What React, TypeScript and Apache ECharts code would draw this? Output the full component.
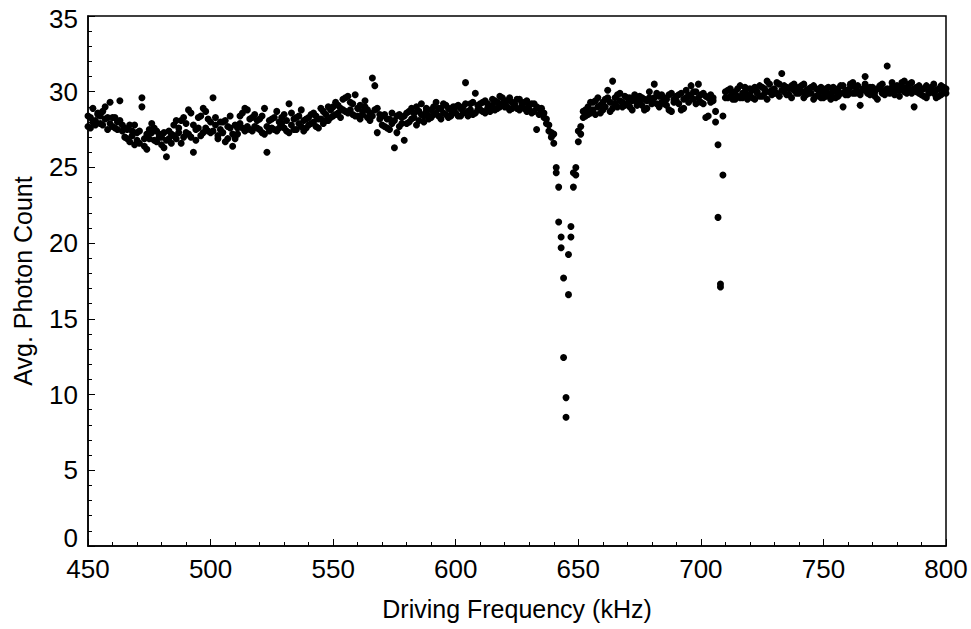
import React, { useEffect, useRef } from "react";
import * as echarts from "echarts";

// Driving frequency sweep (kHz): start and step
const freqStart = 450;
const freqStep = 1;

// Run A photon counts, one value per kHz, 450..800
const runA450 = [28.4, 27.6, 28.9, 28.1, 28.5, 27.9, 28.7, 28.2, 27.5, 29.3, 28.3, 27.6, 28.0, 29.4, 27.4, 27.6, 26.9, 27.8, 27.1, 26.5, 27.3, 26.6, 29.6, 26.9, 26.2, 27.5, 27.9, 26.8, 27.4, 27.0, 26.5, 27.3, 25.7, 26.9, 27.2, 27.8, 26.9, 27.6, 28.1, 27.0, 27.9, 27.2, 28.6, 26.0, 27.5, 28.3, 27.1, 28.9, 27.6, 28.2];
const runA500 = [27.3, 29.6, 27.8, 26.9, 27.5, 28.0, 26.7, 27.7, 28.4, 27.2, 26.9, 27.6, 27.9, 28.6, 27.4, 28.8, 27.5, 28.3, 27.7, 28.1, 27.5, 28.4, 27.2, 26.0, 28.1, 27.6, 28.3, 27.4, 28.0, 27.9, 28.5, 27.4, 29.2, 27.8, 28.2, 27.5, 28.4, 27.7, 28.1, 27.6, 28.3, 27.9, 28.6, 27.7, 28.2, 28.9, 27.9, 28.5, 28.1, 28.8];
const runA550 = [28.4, 29.3, 28.6, 28.9, 29.5, 28.7, 29.7, 28.8, 29.2, 28.4, 28.9, 28.2, 28.7, 29.0, 28.3, 28.6, 30.9, 28.8, 27.3, 28.5, 27.8, 28.5, 27.6, 28.2, 27.9, 26.3, 28.4, 27.7, 28.3, 26.8, 28.6, 28.0, 28.9, 28.3, 27.8, 28.7, 29.2, 28.4, 28.9, 28.2, 28.8, 28.5, 29.3, 28.4, 28.9, 28.6, 29.1, 28.3, 28.8, 29.0];
const runA600 = [28.6, 29.1, 28.4, 29.0, 30.6, 28.7, 29.2, 28.5, 29.9, 28.8, 29.2, 28.7, 29.4, 28.9, 29.0, 29.5, 28.8, 29.3, 29.0, 29.6, 29.0, 29.4, 28.8, 29.3, 29.1, 28.9, 29.5, 29.0, 29.3, 28.7, 29.1, 28.6, 29.2, 27.5, 28.9, 28.7, 28.3, 27.9, 27.4, 27.0, 26.6, 25.0, 23.7, 20.4, 17.7, 8.5, 16.6, 20.4, 23.7, 25.0];
const runA650 = [26.7, 27.7, 28.3, 28.8, 28.5, 29.3, 28.8, 29.4, 29.0, 28.6, 29.3, 29.0, 29.6, 28.7, 30.7, 29.2, 29.8, 29.4, 29.0, 29.7, 29.2, 29.6, 28.8, 29.5, 29.3, 29.7, 29.1, 29.5, 28.9, 29.6, 29.4, 30.5, 29.2, 29.7, 29.3, 29.6, 29.1, 29.8, 28.7, 29.5, 29.7, 29.2, 29.9, 28.9, 29.6, 29.8, 30.4, 29.5, 30.0, 29.6];
const runA700 = [29.3, 29.9, 28.3, 29.6, 29.8, 29.4, 28.7, 26.5, 17.1, 24.5, 29.6, 30.1, 29.7, 29.9, 29.5, 30.2, 29.6, 29.9, 30.3, 29.7, 29.8, 30.1, 29.5, 30.0, 29.7, 30.3, 29.9, 30.7, 30.0, 29.8, 30.2, 29.9, 30.5, 31.2, 30.0, 30.3, 29.8, 30.4, 30.1, 29.9, 30.3, 30.0, 30.5, 29.8, 30.2, 29.9, 30.4, 29.7, 30.1, 29.6];
const runA750 = [30.0, 29.7, 30.3, 29.8, 30.1, 29.6, 30.2, 29.9, 30.4, 29.8, 30.1, 30.5, 29.9, 30.3, 30.0, 29.1, 30.2, 31.0, 29.9, 30.3, 30.0, 29.7, 30.2, 30.4, 29.9, 30.1, 31.7, 30.0, 30.3, 29.8, 30.4, 30.1, 30.6, 30.0, 30.3, 30.5, 29.9, 30.2, 30.0, 30.4, 29.8, 30.2, 29.6, 30.0, 30.3, 29.9, 30.1, 29.7, 30.4, 30.0, 30.2];

// Run B photon counts, one value per kHz, 450..800
const runB450 = [27.7, 28.3, 28.0, 27.8, 28.6, 28.4, 27.8, 29.0, 28.3, 27.9, 27.7, 28.3, 27.5, 28.1, 27.8, 27.0, 27.5, 26.7, 27.4, 27.8, 26.8, 27.4, 29.0, 26.4, 27.2, 26.9, 27.3, 27.6, 26.7, 27.2, 27.0, 26.3, 26.8, 27.4, 26.6, 27.1, 28.1, 27.3, 26.6, 28.3, 27.3, 28.8, 27.0, 27.8, 26.8, 27.6, 28.4, 27.3, 28.7, 27.4];
const runB500 = [28.0, 27.4, 28.3, 27.1, 28.0, 27.3, 28.1, 26.9, 27.6, 26.4, 27.8, 27.2, 28.4, 27.6, 28.9, 27.7, 28.2, 27.4, 28.5, 27.6, 28.2, 27.3, 28.9, 27.7, 27.4, 28.2, 27.5, 28.7, 27.6, 28.3, 27.6, 28.1, 27.3, 28.6, 27.5, 28.3, 27.9, 28.8, 27.4, 28.2, 27.8, 28.5, 28.0, 28.4, 27.6, 28.2, 28.7, 28.1, 29.0, 28.3];
const runB550 = [29.0, 28.5, 29.1, 28.3, 28.8, 29.6, 28.6, 29.3, 28.5, 29.8, 28.4, 29.1, 28.5, 29.4, 28.8, 28.1, 28.4, 30.4, 28.9, 28.2, 28.4, 27.7, 28.2, 27.5, 28.6, 28.1, 27.3, 28.5, 27.9, 28.4, 27.9, 28.7, 28.2, 28.6, 29.0, 28.1, 28.5, 28.0, 28.7, 28.4, 28.3, 29.0, 28.6, 28.9, 28.2, 29.2, 28.5, 28.9, 28.4, 28.7];
const runB600 = [29.0, 28.4, 28.9, 28.6, 29.2, 28.4, 28.8, 29.3, 28.6, 29.1, 28.8, 29.3, 28.6, 29.2, 28.7, 29.1, 29.4, 28.9, 29.7, 29.2, 29.4, 29.0, 29.6, 28.9, 29.2, 29.5, 28.8, 29.2, 28.9, 29.4, 28.8, 29.2, 28.7, 29.0, 28.5, 28.9, 28.6, 28.2, 27.8, 27.3, 27.2, 24.65, 21.4, 19.7, 12.45, 9.8, 19.25, 21.1, 24.65, 24.5];
const runB650 = [27.4, 27.2, 28.7, 28.4, 29.0, 28.6, 29.3, 28.5, 29.6, 29.1, 28.8, 29.5, 30.1, 29.3, 28.9, 29.6, 29.0, 29.9, 29.3, 29.1, 29.6, 29.0, 29.4, 29.8, 29.1, 29.3, 29.6, 28.8, 29.4, 30.0, 29.2, 29.6, 29.9, 29.0, 29.8, 29.2, 29.5, 28.8, 29.9, 29.3, 29.4, 29.8, 28.8, 29.5, 30.1, 29.3, 29.7, 30.0, 29.2, 30.5];
const runB700 = [29.8, 29.2, 29.7, 28.4, 29.3, 29.6, 28.0, 21.7, 17.3, 28.4, 30.0, 29.6, 30.2, 29.5, 30.0, 29.7, 30.4, 29.6, 30.0, 29.5, 30.2, 29.6, 30.3, 29.9, 30.4, 29.7, 30.2, 29.5, 30.5, 30.1, 29.9, 30.6, 29.7, 30.1, 30.4, 29.8, 30.2, 29.6, 30.5, 30.2, 29.9, 30.4, 29.6, 30.1, 29.9, 30.3, 29.5, 30.2, 29.8, 30.3];
const runB750 = [29.6, 30.2, 29.9, 29.5, 30.3, 30.0, 29.7, 30.4, 29.0, 30.1, 29.8, 30.3, 30.6, 29.9, 30.4, 29.8, 30.1, 30.5, 30.2, 29.8, 30.3, 30.0, 29.5, 30.2, 30.5, 29.8, 30.2, 29.9, 30.6, 30.1, 30.1, 29.7, 30.3, 30.7, 29.9, 30.2, 30.6, 29.0, 30.3, 29.9, 30.2, 29.7, 30.4, 29.9, 30.1, 30.5, 29.6, 30.2, 29.8, 30.3, 29.9];

const runA = [...runA450, ...runA500, ...runA550, ...runA600, ...runA650, ...runA700, ...runA750];
const runB = [...runB450, ...runB500, ...runB550, ...runB600, ...runB650, ...runB700, ...runB750];

const xTicks = { min: 450, max: 800, interval: 50 };
const yTicks = { min: 0, max: 35, interval: 5 };

const FONT = "'Liberation Sans', Arial, Helvetica, sans-serif";

export default function App() {
  const ref = useRef<HTMLDivElement>(null);
  useEffect(() => {
    if (!ref.current) return;
    const chart = echarts.init(ref.current, null, { renderer: "svg" });
    const toPairs = (arr: number[]) => arr.map((v, i) => [freqStart + i * freqStep, v]);
    const pts = [...toPairs(runA), ...toPairs(runB)];
    const tickStyle = { fontFamily: FONT, fontSize: 26, lineHeight: 18, color: "#000" };
    chart.setOption({
      animation: false,
      backgroundColor: "#ffffff",
      grid: {
        left: 88,
        right: 25,
        top: 14,
        bottom: 83,
        show: true,
        borderColor: "#000",
        borderWidth: 1.5,
        backgroundColor: "transparent",
      },
      xAxis: {
        type: "value",
        min: xTicks.min,
        max: xTicks.max,
        interval: xTicks.interval,
        name: "Driving Frequency (kHz)",
        nameLocation: "middle",
        nameGap: 50,
        nameTextStyle: { fontFamily: FONT, fontSize: 25, color: "#000" },
        axisLine: { show: true, onZero: false, lineStyle: { color: "#000", width: 1.5 } },
        axisTick: { show: true, inside: true, length: 7, lineStyle: { color: "#000", width: 1 } },
        minorTick: { show: true, splitNumber: 5, length: 4, lineStyle: { color: "#000", width: 1 } },
        splitLine: { show: false },
        axisLabel: { ...tickStyle, margin: 14 },
      },
      yAxis: {
        type: "value",
        min: yTicks.min,
        max: yTicks.max,
        interval: yTicks.interval,
        name: "Avg. Photon Count",
        nameLocation: "middle",
        nameGap: 53,
        nameTextStyle: { fontFamily: FONT, fontSize: 25, color: "#000" },
        axisLine: { show: true, lineStyle: { color: "#000", width: 1.5 } },
        axisTick: { show: true, inside: true, length: 7, lineStyle: { color: "#000", width: 1 } },
        minorTick: { show: true, splitNumber: 5, length: 4, lineStyle: { color: "#000", width: 1 } },
        splitLine: { show: false },
        axisLabel: {
          ...tickStyle,
          margin: 10,
          formatter: (v: number) =>
            v === yTicks.min ? `{lo|${v}}` : v === yTicks.max ? `{hi|${v}}` : String(v),
          rich: {
            lo: { ...tickStyle, padding: [0, 0, 16, 0] },
            hi: { ...tickStyle, padding: [6, 0, 0, 0] },
          },
        },
      },
      series: [
        {
          type: "scatter",
          data: pts,
          symbol: "circle",
          symbolSize: 7,
          itemStyle: { color: "#000", opacity: 1 },
        },
      ],
    });
    return () => chart.dispose();
  }, []);
  return <div ref={ref} style={{ width: 971, height: 629, position: "absolute", left: 0, top: 0 }} />;
}
